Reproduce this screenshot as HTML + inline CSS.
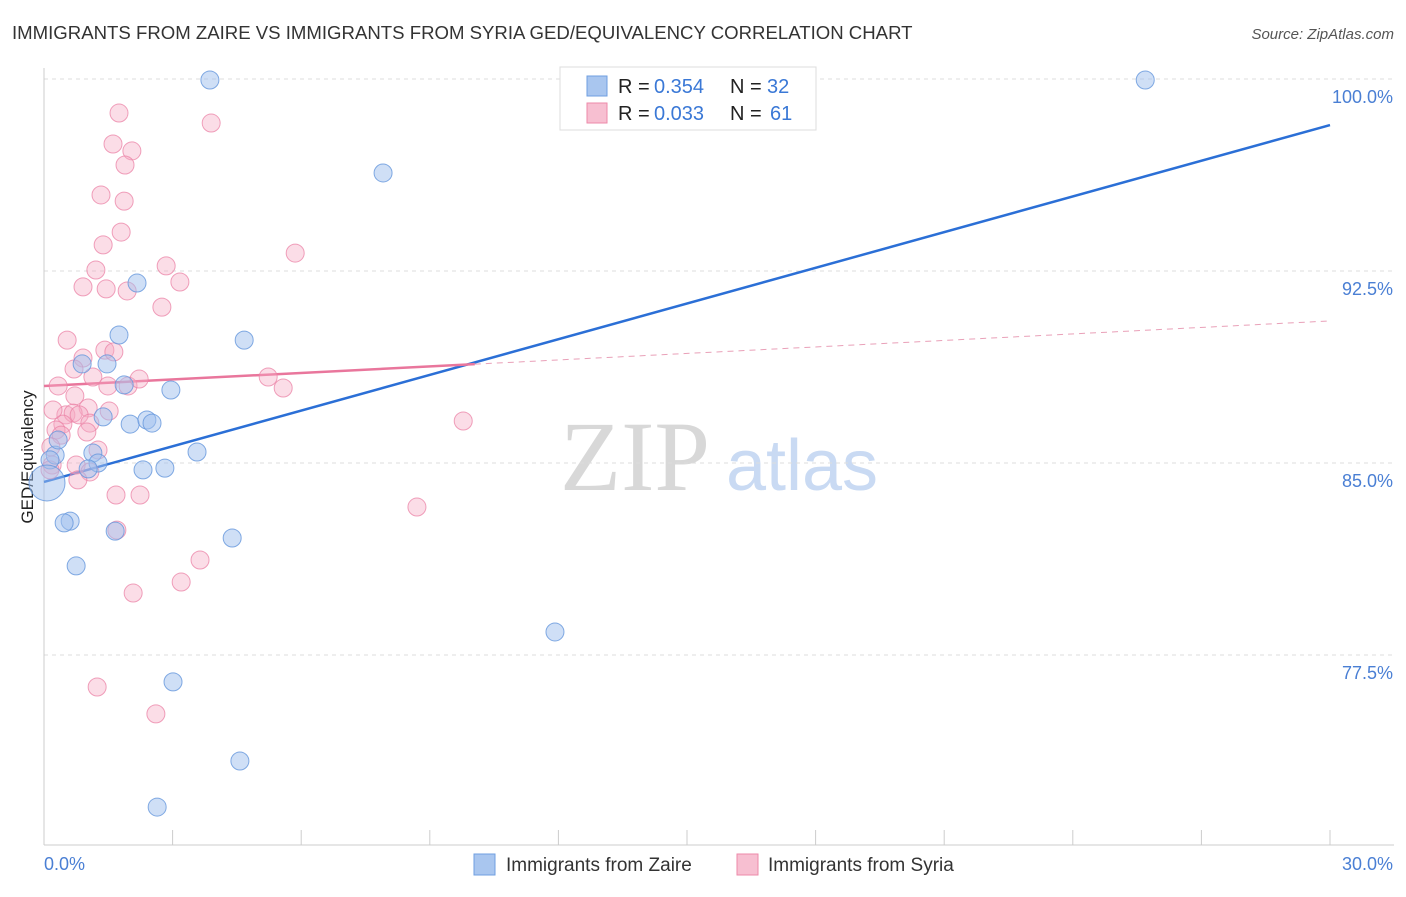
<!DOCTYPE html>
<html><head><meta charset="utf-8"><style>
body{margin:0;background:#fff;font-family:"Liberation Sans",sans-serif;}
</style></head><body>
<svg id="chart" width="1406" height="892" style="font-family:'Liberation Sans',sans-serif">
<text x="12" y="39" font-size="18.6" fill="#333">IMMIGRANTS FROM ZAIRE VS IMMIGRANTS FROM SYRIA GED/EQUIVALENCY CORRELATION CHART</text>
<text x="1394" y="39" font-size="15" fill="#555" font-style="italic" text-anchor="end">Source: ZipAtlas.com</text>
<text x="33" y="457" font-size="17" fill="#222" text-anchor="middle" transform="rotate(-90 33 457)">GED/Equivalency</text>
<g>
<text x="635" y="490" font-size="100" fill="#d8d8d8" style="font-family:'Liberation Serif',serif" text-anchor="middle">ZIP</text>
<text x="802" y="490" font-size="72" fill="#c9daf3" text-anchor="middle">atlas</text>
</g>
<g id="grid"></g><g id="axes"></g><g id="lines"></g><g id="pts"></g>
<g>
<rect x="560" y="67" width="256" height="63" fill="#fff" stroke="#ddd"/>
<rect x="587" y="76" width="20" height="20" fill="#a9c6ef" stroke="#6f9fe0"/>
<rect x="587" y="103" width="20" height="20" fill="#f7bfd1" stroke="#ee8aa9"/>
<text y="93" font-size="20" fill="#222"><tspan x="618">R =</tspan><tspan x="654" fill="#3a78d6">0.354</tspan><tspan x="730">N =</tspan><tspan x="767" fill="#3a78d6">32</tspan></text>
<text y="120" font-size="20" fill="#222"><tspan x="618">R =</tspan><tspan x="654" fill="#3a78d6">0.033</tspan><tspan x="730">N =</tspan><tspan x="770" fill="#3a78d6">61</tspan></text>
</g>
<g>
<rect x="474" y="854" width="21" height="21" fill="#a9c6ef" stroke="#6f9fe0"/>
<text x="506" y="871" font-size="19" fill="#333">Immigrants from Zaire</text>
<rect x="737" y="854" width="21" height="21" fill="#f7bfd1" stroke="#ee8aa9"/>
<text x="768" y="871" font-size="19" fill="#333">Immigrants from Syria</text>
</g>
</svg>
<script>
const yTicks=[100,92.5,85,77.5];
const yTickLabels=["100.0%","92.5%","85.0%","77.5%"];
const xTickLabels=["0.0%","30.0%"];
const zaireX=[3.87,25.69,7.91,2.17,1.75,4.67,0.89,1.47,1.87,2.96,1.38,2.01,2.40,2.52,3.57,1.14,1.26,1.03,2.31,2.82,0.26,0.14,0.61,0.47,1.66,4.39,0.75,11.92,3.01,4.57,2.64,0.33];
const zaireY=[99.96,99.96,96.33,92.03,90.00,89.80,88.87,88.87,88.05,87.85,86.80,86.52,86.68,86.56,85.43,85.39,85.00,84.77,84.73,84.80,85.31,85.12,82.73,82.66,82.34,82.07,80.98,78.40,76.45,73.36,71.56,85.90];
const syriaX=[1.75,3.90,1.61,2.05,1.89,1.33,1.87,1.80,1.38,5.86,1.21,2.85,3.17,0.91,1.45,1.94,2.75,0.54,0.91,1.42,1.63,0.70,1.14,1.49,1.96,2.22,5.23,5.58,0.33,0.72,1.03,1.52,0.51,0.68,0.82,0.44,1.07,0.28,0.40,1.00,1.26,0.16,0.19,0.75,1.07,0.79,9.78,8.70,1.68,2.24,1.70,3.64,3.20,2.08,1.24,2.61,0.21,0.14];
const syriaY=[98.67,98.28,97.46,97.19,96.64,95.47,95.23,94.02,93.52,93.20,92.54,92.70,92.07,91.88,91.80,91.72,91.09,89.80,89.10,89.41,89.34,88.67,88.36,88.01,88.01,88.28,88.36,87.93,88.01,87.62,87.15,87.03,86.88,86.95,86.88,86.52,86.56,86.29,86.09,86.21,85.51,85.63,84.92,84.92,84.65,84.34,86.64,83.28,83.75,83.75,82.38,81.21,80.35,79.92,76.25,75.20,87.07,84.73];
const zaireTrend=[84.26,98.20];
const syriaTrend=[88.01,90.55];
const X=v=>44+v/30*1286, Y=v=>79+(100-v)/7.5*192;
const NS="http://www.w3.org/2000/svg";
function mk(t,a,p){const e=document.createElementNS(NS,t);for(const k in a)e.setAttribute(k,a[k]);p.appendChild(e);return e;}
const grid=document.getElementById('grid'),axes=document.getElementById('axes');
yTicks.forEach((t,i)=>{
 const g=mk('line',{x1:44,x2:1394,y1:Y(t),y2:Y(t),stroke:'#ddd','stroke-dasharray':'4,4'},grid);
 
 
 const l=mk('text',{x:1393,y:Y(t)+24,'font-size':18,fill:'#4a7fd4','text-anchor':'end'},axes);
 l.textContent=yTickLabels[i];
 
 
});
mk('line',{x1:44,x2:44,y1:68,y2:845,stroke:'#ccc'},axes);
mk('line',{x1:44,x2:1394,y1:845,y2:845,stroke:'#ccc'},axes);
for(let i=1;i<=10;i++){mk('line',{x1:X(i*3),x2:X(i*3),y1:830,y2:845,stroke:'#ccc'},axes);}
const xl0=mk('text',{x:44,y:870,'font-size':18,fill:'#4a7fd4'},axes);xl0.textContent=xTickLabels[0];


const xl1=mk('text',{x:1393,y:870,'font-size':18,fill:'#4a7fd4','text-anchor':'end'},axes);xl1.textContent=xTickLabels[1];


const pts=document.getElementById('pts');
syriaX.forEach((x,i)=>{
 const c=mk('circle',{cx:X(x),cy:Y(syriaY[i]),r:9,fill:'rgba(245,170,195,0.4)',stroke:'rgba(235,130,165,0.75)','stroke-width':1},pts);
 
 
});
zaireX.forEach((x,i)=>{
 const c=mk('circle',{cx:X(x),cy:Y(zaireY[i]),r:9,fill:'rgba(160,192,238,0.5)',stroke:'rgba(100,150,220,0.8)','stroke-width':1},pts);
 
 
});
const big=mk('circle',{cx:X(0.07),cy:Y(84.22),r:18,fill:'rgba(160,192,238,0.5)',stroke:'rgba(100,150,220,0.8)'},pts);


const lines=document.getElementById('lines');
const zl=mk('line',{x1:X(0),y1:Y(zaireTrend[0]),x2:X(30),y2:Y(zaireTrend[1]),stroke:'#2b6fd6','stroke-width':2.5},lines);


const sv=x=>syriaTrend[0]+(syriaTrend[1]-syriaTrend[0])*x/30;
const sl=mk('line',{x1:X(0),y1:Y(sv(0)),x2:X(10.05),y2:Y(sv(10.05)),stroke:'#e9769c','stroke-width':2.5},lines);


const sd=mk('line',{x1:X(10.05),y1:Y(sv(10.05)),x2:X(30),y2:Y(sv(30)),stroke:'#e9a0b8','stroke-width':1,'stroke-dasharray':'6,5'},lines);


</script>
</body></html>
